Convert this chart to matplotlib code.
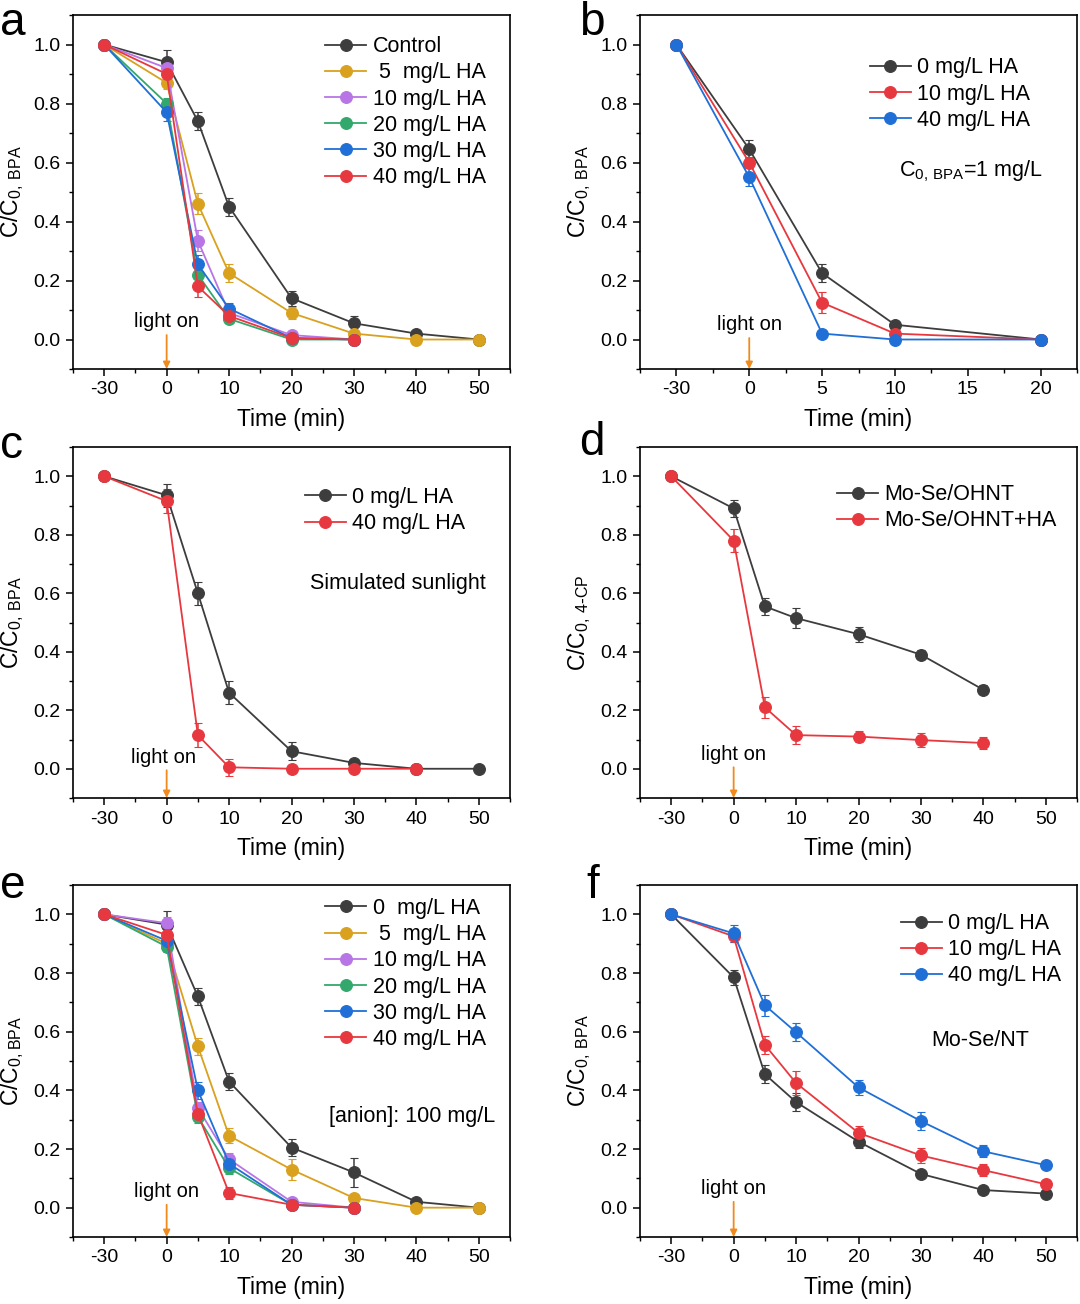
import numpy as np
import matplotlib
matplotlib.use("Agg")
import matplotlib.pyplot as plt

plt.rcParams['font.family'] = ['Liberation Sans', 'DejaVu Sans']
plt.rcParams['mathtext.default'] = 'regular'

# colours
c_k = '#3d3d3d'
c_gold = '#d9a11e'
c_vio = '#b775e6'
c_grn = '#33a86c'
c_blu = '#1f6fd6'
c_red = '#e8383f'
c_arrow = '#f08a1c'

# ---- panel a ----
t_a = [-30, 0, 5, 10, 20, 30, 40, 50]
t_a_short = [-30, 0, 5, 10, 20, 30]
a_ctrl = [1.0, 0.94, 0.74, 0.45, 0.14, 0.055, 0.02, 0.0]
a_ctrl_err = [0, 0.04, 0.03, 0.03, 0.025, 0.025, 0.01, 0]
a_5 = [1.0, 0.87, 0.46, 0.225, 0.09, 0.02, 0.0, 0.0]
a_5_err = [0, 0.02, 0.035, 0.03, 0.02, 0.01, 0, 0]
a_10 = [1.0, 0.92, 0.335, 0.09, 0.015, 0.0]
a_10_err = [0, 0.02, 0.035, 0.02, 0.01, 0]
a_20 = [1.0, 0.80, 0.22, 0.07, 0.0, 0.0]
a_20_err = [0, 0.02, 0.03, 0.015, 0, 0]
a_30 = [1.0, 0.77, 0.255, 0.105, 0.005, 0.0]
a_30_err = [0, 0.03, 0.03, 0.02, 0, 0]
a_40 = [1.0, 0.90, 0.18, 0.08, 0.005, 0.0]
a_40_err = [0, 0.02, 0.035, 0.02, 0, 0]

# ---- panel b ----
t_b = [-30, 0, 5, 10, 20]
b_0 = [1.0, 0.645, 0.225, 0.05, 0.0]
b_0_err = [0, 0.03, 0.03, 0.01, 0]
b_10 = [1.0, 0.60, 0.125, 0.02, 0.0]
b_10_err = [0, 0.02, 0.035, 0.01, 0]
b_40 = [1.0, 0.55, 0.02, 0.0, 0.0]
b_40_err = [0, 0.03, 0.005, 0, 0]

# ---- panel c ----
t_c = [-30, 0, 5, 10, 20, 30, 40, 50]
t_c_red = [-30, 0, 5, 10, 20, 30, 40]
c_0 = [1.0, 0.935, 0.60, 0.26, 0.06, 0.02, 0.0, 0.0]
c_0_err = [0, 0.04, 0.04, 0.04, 0.03, 0.015, 0, 0]
c_40 = [1.0, 0.915, 0.115, 0.005, 0.0, 0.0, 0.0]
c_40_err = [0, 0.04, 0.04, 0.03, 0, 0, 0]

# ---- panel d ----
t_d = [-30, 0, 5, 10, 20, 30, 40]
d_ohnt = [1.0, 0.89, 0.555, 0.515, 0.46, 0.39, 0.27]
d_ohnt_err = [0, 0.03, 0.03, 0.035, 0.025, 0.015, 0.015]
d_ha = [1.0, 0.78, 0.21, 0.115, 0.11, 0.098, 0.088]
d_ha_err = [0, 0.04, 0.035, 0.03, 0.02, 0.025, 0.02]

# ---- panel e ----
t_e = [-30, 0, 5, 10, 20, 30, 40, 50]
t_e_short = [-30, 0, 5, 10, 20, 30]
e_0 = [1.0, 0.965, 0.72, 0.43, 0.205, 0.12, 0.02, 0.0]
e_0_err = [0, 0.045, 0.03, 0.03, 0.03, 0.05, 0.01, 0]
e_5 = [1.0, 0.90, 0.55, 0.245, 0.13, 0.033, 0.0, 0.0]
e_5_err = [0, 0.02, 0.03, 0.025, 0.035, 0.01, 0, 0]
e_10 = [1.0, 0.97, 0.34, 0.165, 0.02, 0.0]
e_10_err = [0, 0.02, 0.02, 0.02, 0.01, 0]
e_20 = [1.0, 0.89, 0.31, 0.135, 0.01, 0.0]
e_20_err = [0, 0.02, 0.02, 0.02, 0, 0]
e_30 = [1.0, 0.91, 0.40, 0.15, 0.01, 0.0]
e_30_err = [0, 0.02, 0.03, 0.02, 0, 0]
e_40 = [1.0, 0.93, 0.32, 0.05, 0.01, 0.0]
e_40_err = [0, 0.02, 0.02, 0.02, 0, 0]

# ---- panel f ----
t_f = [-30, 0, 5, 10, 20, 30, 40, 50]
f_0 = [1.0, 0.785, 0.455, 0.36, 0.225, 0.115, 0.06, 0.048]
f_0_err = [0, 0.025, 0.03, 0.03, 0.02, 0.01, 0.01, 0.01]
f_10 = [1.0, 0.925, 0.555, 0.425, 0.255, 0.178, 0.128, 0.08]
f_10_err = [0, 0.02, 0.03, 0.04, 0.025, 0.025, 0.02, 0.01]
f_40 = [1.0, 0.935, 0.69, 0.598, 0.41, 0.295, 0.192, 0.145]
f_40_err = [0, 0.03, 0.035, 0.03, 0.025, 0.03, 0.02, 0.01]

ticks_long = [-30, 0, 10, 20, 30, 40, 50]
ticks_short = [-30, 0, 5, 10, 15, 20]

fig = plt.figure(figsize=(10.8, 13.04), dpi=100)

lefts = [73 / 1080, 640 / 1080]
rows = [(15, 369), (447, 798), (885, 1237)]
W = 1080.0
H = 1304.0


def make_ax(col, row):
    top, bot = rows[row]
    return fig.add_axes([lefts[col], 1 - bot / H, 437 / W, (bot - top) / H])


def setup(ax, k, xlim, ticks, minors, ylab):
    fwd = lambda x: np.where(np.asarray(x) < 0, np.asarray(x) / k, np.asarray(x))
    inv = lambda y: np.where(np.asarray(y) < 0, np.asarray(y) * k, np.asarray(y))
    ax.set_xscale('function', functions=(fwd, inv))
    ax.set_xlim(*xlim)
    ax.set_ylim(-0.1, 1.1)
    ax.set_xticks(ticks)
    ax.set_xticklabels([str(t) for t in ticks])
    ax.set_xticks(minors, minor=True)
    ax.set_yticks([0.0, 0.2, 0.4, 0.6, 0.8, 1.0])
    ax.set_yticklabels(['0.0', '0.2', '0.4', '0.6', '0.8', '1.0'])
    ax.set_yticks([-0.1, 0.1, 0.3, 0.5, 0.7, 0.9, 1.1], minor=True)
    ax.tick_params(which='major', direction='out', length=5, width=1.1, labelsize=14, pad=4)
    ax.tick_params(which='minor', direction='out', length=3, width=1.0)
    for s in ax.spines.values():
        s.set_linewidth(1.2)
    ax.set_xlabel('Time (min)', fontsize=16.5, labelpad=7)
    ax.set_ylabel(ylab, fontsize=16.5, labelpad=5)


def series(ax, t, y, err, col, z=3):
    c = ax.errorbar(t, y, yerr=err, color=col, ecolor=col, lw=1.3, elinewidth=1.1,
                    capsize=3, capthick=1.1, marker='o', ms=8.5, mfc=col,
                    mec=col, mew=0.8, zorder=z)
    return c[0]


def light_on(ax, ty, dx=0):
    ax.text(dx, ty, 'light on', fontsize=14.5, ha='center', va='center')
    ax.annotate('', xy=(0, -0.1), xytext=(0, ty - 0.045),
                arrowprops=dict(arrowstyle='-|>', color=c_arrow, lw=1.3,
                                mutation_scale=10, shrinkA=0, shrinkB=0))


def legend(ax, handles, labels, x, y):
    ax.legend(handles, labels, loc='upper left', bbox_to_anchor=(x, y), frameon=False,
              fontsize=15.5, handlelength=1.9, handletextpad=0.3, labelspacing=0.24,
              borderaxespad=0, borderpad=0)


minors_long = [-45, -15, 5, 15, 25, 35, 45, 55]
minors_short = [-45, -15, 2.5, 7.5, 12.5, 17.5, 22.5]
ylab_bpa = r'C/C$_{0,\,BPA}$'

labels_six_a = ['Control', ' 5  mg/L HA', '10 mg/L HA', '20 mg/L HA', '30 mg/L HA', '40 mg/L HA']
labels_six_e = ['0  mg/L HA', ' 5  mg/L HA', '10 mg/L HA', '20 mg/L HA', '30 mg/L HA', '40 mg/L HA']
labels_three = ['0 mg/L HA', '10 mg/L HA', '40 mg/L HA']
labels_c = ['0 mg/L HA', '40 mg/L HA']
labels_d = ['Mo-Se/OHNT', 'Mo-Se/OHNT+HA']

# a
ax = make_ax(0, 0)
setup(ax, 3, (-45, 55), ticks_long, minors_long, ylab_bpa)
h = [series(ax, t_a, a_ctrl, a_ctrl_err, c_k),
     series(ax, t_a, a_5, a_5_err, c_gold),
     series(ax, t_a_short, a_10, a_10_err, c_vio),
     series(ax, t_a_short, a_20, a_20_err, c_grn),
     series(ax, t_a_short, a_30, a_30_err, c_blu),
     series(ax, t_a_short, a_40, a_40_err, c_red)]
light_on(ax, 0.06)
legend(ax, h, labels_six_a, 0.577, 0.94)

# b
ax = make_ax(1, 0)
setup(ax, 6, (-45, 22.5), ticks_short, minors_short, ylab_bpa)
h = [series(ax, t_b, b_0, b_0_err, c_k),
     series(ax, t_b, b_10, b_10_err, c_red),
     series(ax, t_b, b_40, b_40_err, c_blu)]
light_on(ax, 0.05)
ax.text(10.3, 0.57, r'C$_{0,\,BPA}$=1 mg/L', fontsize=15.5, ha='left', va='center')
legend(ax, h, labels_three, 0.526, 0.88)

# c
ax = make_ax(0, 1)
setup(ax, 3, (-45, 55), ticks_long, minors_long, ylab_bpa)
h = [series(ax, t_c, c_0, c_0_err, c_k),
     series(ax, t_c_red, c_40, c_40_err, c_red)]
light_on(ax, 0.04, dx=-1.5)
ax.text(37, 0.635, 'Simulated sunlight', fontsize=15.5, ha='center', va='center')
legend(ax, h, labels_c, 0.531, 0.886)

# d
ax = make_ax(1, 1)
setup(ax, 3, (-45, 55), ticks_long, minors_long, r'C/C$_{0,\,4\text{-}CP}$')
h = [series(ax, t_d, d_ohnt, d_ohnt_err, c_k),
     series(ax, t_d, d_ha, d_ha_err, c_red)]
light_on(ax, 0.05)
legend(ax, h, labels_d, 0.451, 0.894)

# e
ax = make_ax(0, 2)
setup(ax, 3, (-45, 55), ticks_long, minors_long, r'C/C$_{0,BPA}$')
h = [series(ax, t_e, e_0, e_0_err, c_k),
     series(ax, t_e, e_5, e_5_err, c_gold),
     series(ax, t_e_short, e_10, e_10_err, c_vio),
     series(ax, t_e_short, e_20, e_20_err, c_grn),
     series(ax, t_e_short, e_30, e_30_err, c_blu),
     series(ax, t_e_short, e_40, e_40_err, c_red)]
light_on(ax, 0.055)
ax.text(39.3, 0.31, '[anion]: 100 mg/L', fontsize=15.5, ha='center', va='center')
legend(ax, h, labels_six_e, 0.577, 0.963)

# f
ax = make_ax(1, 2)
setup(ax, 3, (-45, 55), ticks_long, minors_long, ylab_bpa)
h = [series(ax, t_f, f_0, f_0_err, c_k),
     series(ax, t_f, f_10, f_10_err, c_red),
     series(ax, t_f, f_40, f_40_err, c_blu)]
light_on(ax, 0.065)
ax.text(39.5, 0.57, 'Mo-Se/NT', fontsize=15.5, ha='center', va='center')
legend(ax, h, labels_three, 0.597, 0.92)

# panel letters
for lab, x, y in [('a', 0, 35), ('b', 579, 35), ('c', 0, 458),
                  ('d', 579, 455), ('e', 0, 898), ('f', 586, 898)]:
    fig.text(x / W, 1 - y / H, lab, fontsize=33, ha='left', va='baseline')

fig.savefig('out.png', dpi=100)
